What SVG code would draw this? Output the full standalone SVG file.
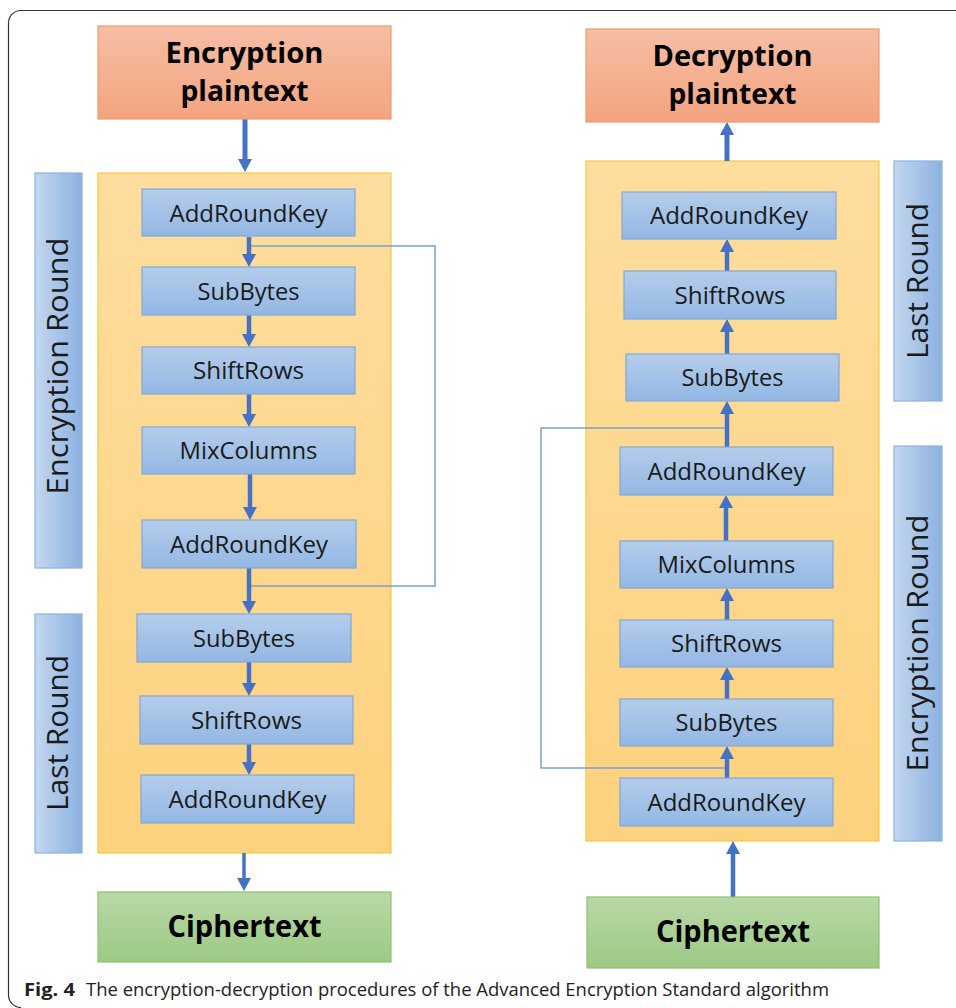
<svg xmlns="http://www.w3.org/2000/svg" width="956" height="1008" viewBox="0 0 956 1008">
<defs>
<linearGradient id="gProc" x1="0" y1="0" x2="0" y2="1"><stop offset="0" stop-color="#b5cdeb"/><stop offset="1" stop-color="#93b7e3"/></linearGradient>
<linearGradient id="gSide" x1="0" y1="0" x2="1" y2="0"><stop offset="0" stop-color="#c3d7f0"/><stop offset="1" stop-color="#8cb1df"/></linearGradient>
<linearGradient id="gYel" x1="0" y1="0" x2="0" y2="1"><stop offset="0" stop-color="#fedd9e"/><stop offset="1" stop-color="#fdd27e"/></linearGradient>
<linearGradient id="gSal" x1="0" y1="0" x2="0" y2="1"><stop offset="0" stop-color="#f6bea5"/><stop offset="1" stop-color="#f4a47f"/></linearGradient>
<linearGradient id="gGrn" x1="0" y1="0" x2="0" y2="1"><stop offset="0" stop-color="#b9d9a6"/><stop offset="1" stop-color="#9cc984"/></linearGradient>
<marker id="ah" viewBox="0 0 13 14" refX="1" refY="7" markerWidth="13" markerHeight="14" markerUnits="userSpaceOnUse" orient="auto"><path d="M0,0 L13,7 L0,14 z" fill="#4472c4"/></marker>
<style>
.proc{fill:url(#gProc);stroke:#7fa8db;stroke-width:1.2}
.side{fill:url(#gSide);stroke:#8cb2e0;stroke-width:1.2}
.cont{fill:url(#gYel);stroke:#f7c93e;stroke-width:1.2}
.sal{fill:url(#gSal);stroke:#f29a68;stroke-width:1.2}
.grn{fill:url(#gGrn);stroke:#8ec170;stroke-width:1.2}
.pt{font-family:"Open Sans","Noto Sans",sans-serif;font-size:23px;fill:#1a1a1a;text-anchor:middle}
.st{font-family:"Open Sans","Noto Sans",sans-serif;font-size:29px;fill:#1a1a1a;text-anchor:middle}
.tt{font-family:"Open Sans","Noto Sans",sans-serif;font-size:28px;font-weight:bold;fill:#000;text-anchor:middle}
.ct{font-family:"Open Sans","Noto Sans",sans-serif;font-size:30px;font-weight:bold;fill:#000;text-anchor:middle}
.cap{font-family:"Open Sans","Noto Sans",sans-serif;font-size:18px;fill:#222}
.arr{stroke:#4472c4;stroke-width:4.5;fill:none;marker-end:url(#ah)}
.fb{stroke:#7a9fd7;stroke-width:1.5;fill:none}
</style>
</defs>
<rect width="956" height="1008" fill="#fff"/>
<path d="M960 10.5 H21 A12.5 12.5 0 0 0 8.5 23 V995 A12.5 12.5 0 0 0 21 1007.5" fill="none" stroke="#333" stroke-width="1.2"/>

<!-- containers and side labels -->
<g id="enc-container"><rect class="cont" x="98" y="173" width="293" height="680"/></g>
<g id="dec-container"><rect class="cont" x="586" y="161" width="293" height="680"/></g>
<g id="enc-round-label"><rect class="side" x="35" y="173" width="47" height="395"/><text class="st" transform="translate(68,366) rotate(-90)" textLength="257" lengthAdjust="spacingAndGlyphs">Encryption Round</text></g>
<g id="enc-last-label"><rect class="side" x="35" y="614" width="47" height="239"/><text class="st" transform="translate(68,733) rotate(-90)" textLength="156" lengthAdjust="spacingAndGlyphs">Last Round</text></g>
<g id="dec-last-label"><rect class="side" x="894" y="161" width="48" height="240"/><text class="st" transform="translate(928,281) rotate(-90)" textLength="156" lengthAdjust="spacingAndGlyphs">Last Round</text></g>
<g id="dec-round-label"><rect class="side" x="894" y="446" width="48" height="395"/><text class="st" transform="translate(928,643) rotate(-90)" textLength="257" lengthAdjust="spacingAndGlyphs">Encryption Round</text></g>

<!-- connectors -->
<g id="connectors">
<polyline class="fb" points="249,246 435,246 435,586 249,586"/>
<polyline class="fb" points="727,428 541,428 541,768 727,768"/>
<line class="arr" x1="245" y1="119" x2="245" y2="160" style="stroke-width:5"/>
<line class="arr" x1="249" y1="237" x2="249" y2="255"/>
<line class="arr" x1="249" y1="315" x2="249" y2="335"/>
<line class="arr" x1="249" y1="394" x2="249" y2="415"/>
<line class="arr" x1="250" y1="474" x2="250" y2="508"/>
<line class="arr" x1="249" y1="568" x2="249" y2="602"/>
<line class="arr" x1="249" y1="662" x2="249" y2="684"/>
<line class="arr" x1="249" y1="744" x2="249" y2="763"/>
<line class="arr" x1="244" y1="853" x2="244" y2="879" style="stroke-width:3.5"/>
<line class="arr" x1="727" y1="161" x2="727" y2="134" style="stroke-width:5"/>
<line class="arr" x1="727" y1="271" x2="727" y2="251"/>
<line class="arr" x1="727" y1="354" x2="727" y2="331"/>
<line class="arr" x1="727" y1="447" x2="727" y2="413"/>
<line class="arr" x1="726" y1="541" x2="726" y2="507"/>
<line class="arr" x1="727" y1="620" x2="727" y2="600"/>
<line class="arr" x1="727" y1="699" x2="727" y2="679"/>
<line class="arr" x1="727" y1="778" x2="727" y2="758"/>
<line class="arr" x1="733" y1="897" x2="733" y2="853"/>
</g>

<!-- left column nodes -->
<g id="enc-plaintext"><rect class="sal" x="98" y="26" width="293" height="93"/><text class="tt" x="244.5" y="63" textLength="158" lengthAdjust="spacingAndGlyphs">Encryption</text><text class="tt" x="244.5" y="101" textLength="128" lengthAdjust="spacingAndGlyphs">plaintext</text></g>
<g id="enc-ark1"><rect class="proc" x="142" y="189" width="213" height="47"/><text class="pt" x="248.5" y="222" textLength="158" lengthAdjust="spacingAndGlyphs">AddRoundKey</text></g>
<g id="enc-sb1"><rect class="proc" x="142" y="267" width="213" height="48"/><text class="pt" x="248.5" y="300" textLength="102" lengthAdjust="spacingAndGlyphs">SubBytes</text></g>
<g id="enc-sr1"><rect class="proc" x="142" y="347" width="213" height="47"/><text class="pt" x="248.5" y="379" textLength="111" lengthAdjust="spacingAndGlyphs">ShiftRows</text></g>
<g id="enc-mc"><rect class="proc" x="142" y="427" width="213" height="47"/><text class="pt" x="248.5" y="459" textLength="138" lengthAdjust="spacingAndGlyphs">MixColumns</text></g>
<g id="enc-ark2"><rect class="proc" x="142" y="520" width="214" height="48"/><text class="pt" x="249" y="553" textLength="158" lengthAdjust="spacingAndGlyphs">AddRoundKey</text></g>
<g id="enc-sb2"><rect class="proc" x="137" y="614" width="214" height="48"/><text class="pt" x="244" y="647" textLength="102" lengthAdjust="spacingAndGlyphs">SubBytes</text></g>
<g id="enc-sr2"><rect class="proc" x="140" y="696" width="213" height="48"/><text class="pt" x="246.5" y="729" textLength="111" lengthAdjust="spacingAndGlyphs">ShiftRows</text></g>
<g id="enc-ark3"><rect class="proc" x="141" y="775" width="213" height="48"/><text class="pt" x="247.5" y="808" textLength="158" lengthAdjust="spacingAndGlyphs">AddRoundKey</text></g>
<g id="enc-cipher"><rect class="grn" x="98" y="892" width="293" height="70"/><text class="ct" x="244.5" y="937" textLength="154" lengthAdjust="spacingAndGlyphs">Ciphertext</text></g>

<!-- right column nodes -->
<g id="dec-plaintext"><rect class="sal" x="586" y="29" width="293" height="93"/><text class="tt" x="732.5" y="66" textLength="160" lengthAdjust="spacingAndGlyphs">Decryption</text><text class="tt" x="732.5" y="104" textLength="128" lengthAdjust="spacingAndGlyphs">plaintext</text></g>
<g id="dec-ark1"><rect class="proc" x="622" y="192" width="214" height="47"/><text class="pt" x="729" y="224" textLength="158" lengthAdjust="spacingAndGlyphs">AddRoundKey</text></g>
<g id="dec-sr1"><rect class="proc" x="624" y="271" width="212" height="48"/><text class="pt" x="730" y="304" textLength="111" lengthAdjust="spacingAndGlyphs">ShiftRows</text></g>
<g id="dec-sb1"><rect class="proc" x="626" y="354" width="213" height="47"/><text class="pt" x="732.5" y="386" textLength="102" lengthAdjust="spacingAndGlyphs">SubBytes</text></g>
<g id="dec-ark2"><rect class="proc" x="620" y="447" width="213" height="48"/><text class="pt" x="726.5" y="480" textLength="158" lengthAdjust="spacingAndGlyphs">AddRoundKey</text></g>
<g id="dec-mc"><rect class="proc" x="620" y="541" width="213" height="47"/><text class="pt" x="726.5" y="573" textLength="138" lengthAdjust="spacingAndGlyphs">MixColumns</text></g>
<g id="dec-sr2"><rect class="proc" x="620" y="620" width="213" height="47"/><text class="pt" x="726.5" y="652" textLength="111" lengthAdjust="spacingAndGlyphs">ShiftRows</text></g>
<g id="dec-sb2"><rect class="proc" x="620" y="699" width="213" height="47"/><text class="pt" x="726.5" y="731" textLength="102" lengthAdjust="spacingAndGlyphs">SubBytes</text></g>
<g id="dec-ark3"><rect class="proc" x="620" y="778" width="213" height="48"/><text class="pt" x="726.5" y="811" textLength="158" lengthAdjust="spacingAndGlyphs">AddRoundKey</text></g>
<g id="dec-cipher"><rect class="grn" x="587" y="897" width="292" height="71"/><text class="ct" x="733" y="942" textLength="154" lengthAdjust="spacingAndGlyphs">Ciphertext</text></g>

<g id="caption"><text class="cap" x="24" y="996"><tspan font-weight="bold" textLength="51" lengthAdjust="spacingAndGlyphs">Fig. 4</tspan><tspan x="86" textLength="743" lengthAdjust="spacingAndGlyphs">The encryption-decryption procedures of the Advanced Encryption Standard algorithm</tspan></text></g>
</svg>
